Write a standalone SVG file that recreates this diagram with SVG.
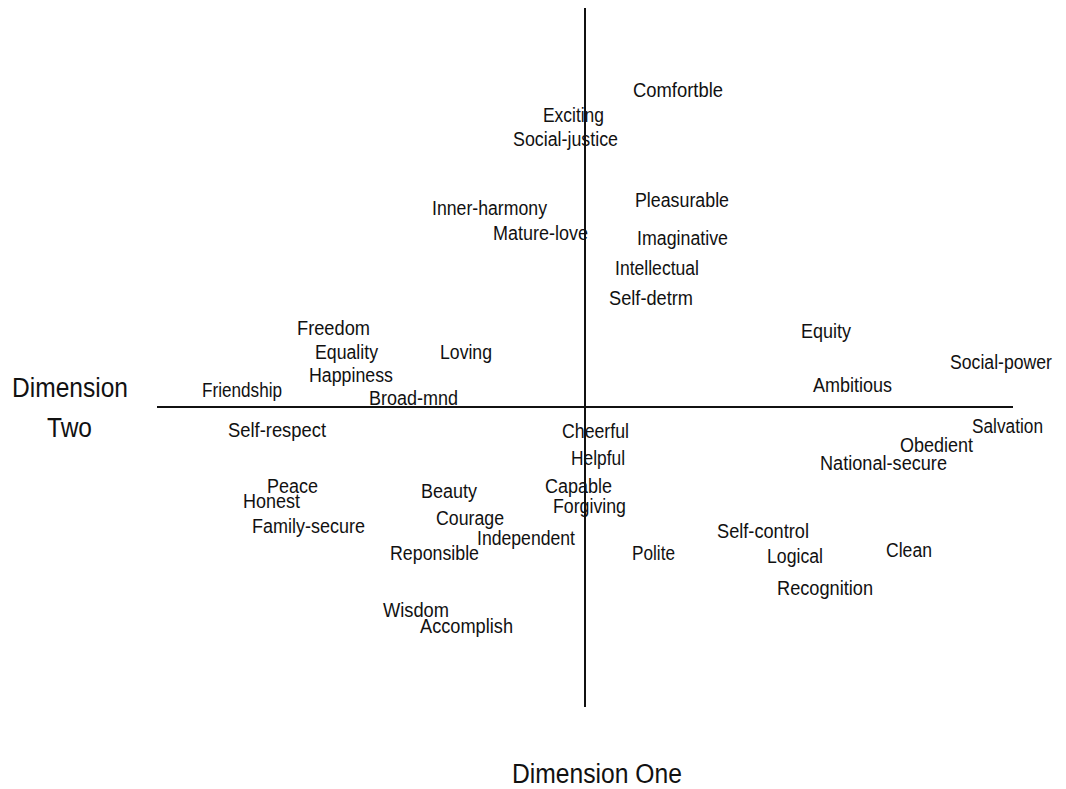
<svg xmlns="http://www.w3.org/2000/svg" width="1066" height="789" viewBox="0 0 1066 789">
<style>
.l{font-family:"Liberation Sans",Arial,sans-serif;font-size:20px;fill:#111}
.t{font-family:"Liberation Sans",Arial,sans-serif;font-size:27px;fill:#111}
.ax{stroke:#111;stroke-width:2;fill:none}
</style>
<rect width="1066" height="789" fill="#fff"/>
<g id="axes">
<line class="ax" x1="585" y1="8" x2="585" y2="707"/>
<line class="ax" x1="157" y1="407" x2="1013" y2="407"/>
</g>
<g id="axis-labels">
<text class="t" x="12" y="397" textLength="116" lengthAdjust="spacingAndGlyphs">Dimension</text>
<text class="t" x="47" y="437" textLength="45" lengthAdjust="spacingAndGlyphs">Two</text>
<text class="t" x="512" y="783" textLength="170" lengthAdjust="spacingAndGlyphs">Dimension One</text>
</g>
<g id="labels">
<text class="l" x="633" y="97" textLength="90" lengthAdjust="spacingAndGlyphs">Comfortble</text>
<text class="l" x="543" y="122" textLength="61" lengthAdjust="spacingAndGlyphs">Exciting</text>
<text class="l" x="513" y="146" textLength="105" lengthAdjust="spacingAndGlyphs">Social-justice</text>
<text class="l" x="635" y="207" textLength="94" lengthAdjust="spacingAndGlyphs">Pleasurable</text>
<text class="l" x="432" y="215" textLength="115" lengthAdjust="spacingAndGlyphs">Inner-harmony</text>
<text class="l" x="493" y="240" textLength="95" lengthAdjust="spacingAndGlyphs">Mature-love</text>
<text class="l" x="637" y="245" textLength="91" lengthAdjust="spacingAndGlyphs">Imaginative</text>
<text class="l" x="615" y="275" textLength="84" lengthAdjust="spacingAndGlyphs">Intellectual</text>
<text class="l" x="609" y="305" textLength="84" lengthAdjust="spacingAndGlyphs">Self-detrm</text>
<text class="l" x="297" y="335" textLength="73" lengthAdjust="spacingAndGlyphs">Freedom</text>
<text class="l" x="801" y="338" textLength="50" lengthAdjust="spacingAndGlyphs">Equity</text>
<text class="l" x="315" y="359" textLength="63" lengthAdjust="spacingAndGlyphs">Equality</text>
<text class="l" x="440" y="359" textLength="52" lengthAdjust="spacingAndGlyphs">Loving</text>
<text class="l" x="950" y="369" textLength="102" lengthAdjust="spacingAndGlyphs">Social-power</text>
<text class="l" x="309" y="382" textLength="84" lengthAdjust="spacingAndGlyphs">Happiness</text>
<text class="l" x="813" y="392" textLength="79" lengthAdjust="spacingAndGlyphs">Ambitious</text>
<text class="l" x="202" y="397" textLength="80" lengthAdjust="spacingAndGlyphs">Friendship</text>
<text class="l" x="369" y="405" textLength="89" lengthAdjust="spacingAndGlyphs">Broad-mnd</text>
<text class="l" x="228" y="437" textLength="98" lengthAdjust="spacingAndGlyphs">Self-respect</text>
<text class="l" x="562" y="438" textLength="67" lengthAdjust="spacingAndGlyphs">Cheerful</text>
<text class="l" x="972" y="433" textLength="71" lengthAdjust="spacingAndGlyphs">Salvation</text>
<text class="l" x="900" y="452" textLength="73" lengthAdjust="spacingAndGlyphs">Obedient</text>
<text class="l" x="571" y="465" textLength="54" lengthAdjust="spacingAndGlyphs">Helpful</text>
<text class="l" x="820" y="470" textLength="127" lengthAdjust="spacingAndGlyphs">National-secure</text>
<text class="l" x="267" y="493" textLength="51" lengthAdjust="spacingAndGlyphs">Peace</text>
<text class="l" x="545" y="493" textLength="67" lengthAdjust="spacingAndGlyphs">Capable</text>
<text class="l" x="421" y="498" textLength="56" lengthAdjust="spacingAndGlyphs">Beauty</text>
<text class="l" x="243" y="508" textLength="57" lengthAdjust="spacingAndGlyphs">Honest</text>
<text class="l" x="553" y="513" textLength="73" lengthAdjust="spacingAndGlyphs">Forgiving</text>
<text class="l" x="436" y="525" textLength="68" lengthAdjust="spacingAndGlyphs">Courage</text>
<text class="l" x="252" y="533" textLength="113" lengthAdjust="spacingAndGlyphs">Family-secure</text>
<text class="l" x="717" y="538" textLength="92" lengthAdjust="spacingAndGlyphs">Self-control</text>
<text class="l" x="477" y="545" textLength="98" lengthAdjust="spacingAndGlyphs">Independent</text>
<text class="l" x="886" y="557" textLength="46" lengthAdjust="spacingAndGlyphs">Clean</text>
<text class="l" x="390" y="560" textLength="89" lengthAdjust="spacingAndGlyphs">Reponsible</text>
<text class="l" x="632" y="560" textLength="43" lengthAdjust="spacingAndGlyphs">Polite</text>
<text class="l" x="767" y="563" textLength="56" lengthAdjust="spacingAndGlyphs">Logical</text>
<text class="l" x="777" y="595" textLength="96" lengthAdjust="spacingAndGlyphs">Recognition</text>
<text class="l" x="383" y="617" textLength="66" lengthAdjust="spacingAndGlyphs">Wisdom</text>
<text class="l" x="420" y="633" textLength="93" lengthAdjust="spacingAndGlyphs">Accomplish</text>
</g>
</svg>
